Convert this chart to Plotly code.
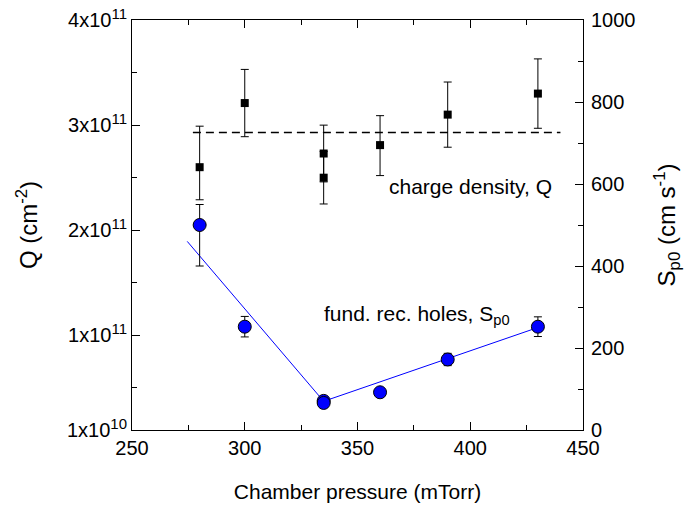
import plotly.graph_objects as go

# ---- data ----
q_pressure = [280, 300, 335, 335, 360, 390, 430]
q_values = [2.60e11, 3.21e11, 2.73e11, 2.50e11, 2.81e11, 3.10e11, 3.30e11]
q_err_plus = [0.39e11, 0.32e11, 0.27e11, 0.25e11, 0.28e11, 0.31e11, 0.33e11]
q_err_minus = [0.31e11, 0.32e11, 0.27e11, 0.25e11, 0.29e11, 0.31e11, 0.33e11]

q_mean_x = [277, 440]
q_mean_y = [2.93e11, 2.93e11]

s_pressure = [280, 300, 335, 335, 360, 390, 430]
s_values = [500, 252, 71, 66, 92, 172, 252]
s_err_plus = [50, 25, 0, 0, 0, 15, 24]
s_err_minus = [100, 25, 0, 0, 0, 15, 24]

s_fit_x = [274.5, 335, 430]
s_fit_y = [460, 70, 250]

x_tickvals = [250, 300, 350, 400, 450]
x_minor_vals = [275, 325, 375, 425]
q_tickvals = [1e10, 1e11, 2e11, 3e11, 4e11]
q_mantissa = ["1", "1", "2", "3", "4"]
q_exponent = ["10", "11", "11", "11", "11"]
q_minor_vals = [0.5e11, 1.5e11, 2.5e11, 3.5e11]
s_tickvals = [0, 200, 400, 600, 800, 1000]
s_minor_vals = [100, 300, 500, 700, 900]

q_ticktext = [f"{m}x10<sup><span style='font-size:15px'>{e}</span></sup>"
              for m, e in zip(q_mantissa, q_exponent)]

FONT = "Liberation Sans, Arial, Helvetica, sans-serif"

fig = go.Figure()

fig.add_trace(go.Scatter(
    x=q_mean_x, y=q_mean_y, mode="lines",
    line=dict(color="black", width=1.5, dash="8px,5px"),
    showlegend=False, hoverinfo="skip"))

fig.add_trace(go.Scatter(
    x=q_pressure, y=q_values, mode="markers",
    marker=dict(symbol="square", size=8, color="black"),
    error_y=dict(type="data", symmetric=False, array=q_err_plus,
                 arrayminus=q_err_minus, color="black", thickness=1, width=4),
    showlegend=False))

fig.add_trace(go.Scatter(
    x=s_fit_x, y=s_fit_y, mode="lines", yaxis="y2",
    line=dict(color="#0000ff", width=1),
    showlegend=False, hoverinfo="skip"))

fig.add_trace(go.Scatter(
    x=s_pressure, y=s_values, mode="markers", yaxis="y2",
    marker=dict(symbol="circle", size=13, color="#0000ff",
                line=dict(color="black", width=1)),
    error_y=dict(type="data", symmetric=False, array=s_err_plus,
                 arrayminus=s_err_minus, color="black", thickness=1, width=4),
    showlegend=False))

axis_common = dict(showline=True, linecolor="black", linewidth=1,
                   ticks="inside", tickcolor="black", tickwidth=1,
                   showgrid=False, zeroline=False, automargin=False,
                   tickfont=dict(family=FONT, size=20, color="black"))

fig.update_layout(
    width=691, height=506,
    margin=dict(l=132, r=108, t=20, b=76, autoexpand=False),
    paper_bgcolor="white", plot_bgcolor="white",
    font=dict(family=FONT, color="black"),
    xaxis=dict(range=[250, 450], tickvals=x_tickvals,
               ticklen=8, mirror="ticks",
               minor=dict(ticks="inside", ticklen=5, tickvals=x_minor_vals,
                          tickcolor="black"),
               title=dict(text="Chamber pressure (mTorr)",
                          font=dict(family=FONT, size=21, color="black"), standoff=26),
               **axis_common),
    yaxis=dict(range=[1e10, 4e11], tickvals=q_tickvals, ticktext=q_ticktext,
               ticklen=8,
               minor=dict(ticks="inside", ticklen=5, tickvals=q_minor_vals,
                          tickcolor="black"),
               title=dict(text="Q (cm<sup>-2</sup>)",
                          font=dict(family=FONT, size=24, color="black"), standoff=22),
               **axis_common),
    yaxis2=dict(range=[0, 1000], overlaying="y", side="right",
                tickvals=s_tickvals, ticklen=8, ticklabelstandoff=3,
                minor=dict(ticks="inside", ticklen=5, tickvals=s_minor_vals,
                           tickcolor="black"),
                title=dict(text="S<sub>p0</sub> (cm s<sup>-1</sup>)",
                           font=dict(family=FONT, size=24, color="black"), standoff=23),
                **axis_common),
    annotations=[
        dict(text="charge density, Q", xref="paper", yref="paper",
             x=0.565, y=0.593, xanchor="left", yanchor="middle", showarrow=False,
             font=dict(family=FONT, size=21, color="black")),
        dict(text="fund. rec. holes, S<sub>p0</sub>", xref="paper", yref="paper",
             x=0.422, y=0.28, xanchor="left", yanchor="middle", showarrow=False,
             font=dict(family=FONT, size=21, color="black")),
    ],
)

fig.write_html("out.html", config={"displayModeBar": False},
               post_script="document.body.style.margin='0px';")
